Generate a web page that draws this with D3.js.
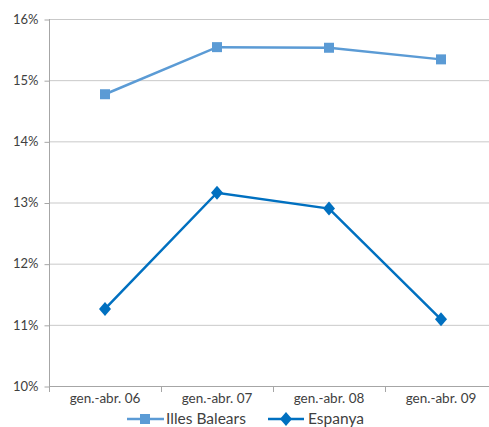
<!DOCTYPE html>
<html><head><meta charset="utf-8">
<script src="https://cdn.jsdelivr.net/npm/d3@7"></script>
<style>body{margin:0;background:#fff;} svg{display:block;}</style>
</head><body>
<svg id="c" width="489" height="427"></svg>
<script>
const categories = ["gen.-abr. 06","gen.-abr. 07","gen.-abr. 08","gen.-abr. 09"];
const illesBalears = [14.77, 15.54, 15.53, 15.34];
const espanya = [11.26, 13.16, 12.90, 11.09];
const yTicks = [10,11,12,13,14,15,16];

const svg = d3.select("#c");
const font = "Lato, 'Open Sans', sans-serif";
const x = d3.scaleBand().domain(categories).range([49, 497]);
const y = d3.scaleLinear().domain([10,16]).range([386, 19]);

// gridlines
svg.append("g").selectAll("line").data(yTicks).join("line")
  .attr("x1", 49).attr("x2", 489).attr("y1", d=>y(d)+0.5).attr("y2", d=>y(d)+0.5)
  .attr("stroke", "#c9c9c9").attr("stroke-width", 1);

// y axis
const ya = svg.append("g").attr("transform","translate(49.5,0)")
  .call(d3.axisLeft(y).tickValues(yTicks).tickFormat(d=>d+"%").tickSize(5).tickPadding(6));
ya.select(".domain").attr("stroke","#a6a6a6").attr("d","M0,"+y(16)+"V"+(y(10)+0.5));
ya.selectAll(".tick line").attr("stroke","#a6a6a6").attr("transform","translate(0,0.5)");
ya.selectAll("text").attr("fill","#404040").style("font-family",font).style("font-size","13px");

// x axis
const xa = svg.append("g").attr("transform","translate(0,"+(y(10)+0.5)+")")
  .call(d3.axisBottom(x).tickSize(0).tickPadding(7));
xa.select(".domain").attr("stroke","#a6a6a6").attr("d","M49,0H489");
xa.selectAll("text").attr("fill","#404040").style("font-family",font).style("font-size","13.5px");
const bounds = [0,1,2,3,4].map(i => 49 + i*x.step());
svg.append("g").selectAll("line").data(bounds).join("line")
  .attr("x1", d=>Math.round(d)+0.5).attr("x2", d=>Math.round(d)+0.5)
  .attr("y1", y(10)).attr("y2", y(10)+6).attr("stroke","#a6a6a6");

const cx = d => x(d) + x.bandwidth()/2;
const line = d3.line().x((d,i)=>cx(categories[i])).y(d=>y(d));

const c1 = "#5b9bd5", c2 = "#0070c0";
const diamond = "M0,-7L6,0L0,7L-6,0Z";
svg.append("path").datum(illesBalears).attr("d", line).attr("fill","none").attr("stroke",c1).attr("stroke-width",2.5);
svg.append("g").selectAll("rect").data(illesBalears).join("rect")
  .attr("x",(d,i)=>cx(categories[i])-5).attr("y",d=>y(d)-5).attr("width",10).attr("height",10).attr("fill",c1);

svg.append("path").datum(espanya).attr("d", line).attr("fill","none").attr("stroke",c2).attr("stroke-width",2.5);
svg.append("g").selectAll("path").data(espanya).join("path")
  .attr("d", diamond)
  .attr("transform",(d,i)=>`translate(${cx(categories[i])},${y(d)})`).attr("fill",c2);

// legend
const ly = 419;
const lg = svg.append("g");
lg.append("line").attr("x1",127).attr("x2",164).attr("y1",ly).attr("y2",ly).attr("stroke",c1).attr("stroke-width",2.5);
lg.append("rect").attr("x",140).attr("y",ly-5).attr("width",10).attr("height",10).attr("fill",c1);
lg.append("text").attr("x",166).attr("y",ly+5).text("Illes Balears").attr("fill","#404040").style("font-family",font).style("font-size","15.5px");
lg.append("line").attr("x1",268).attr("x2",304).attr("y1",ly).attr("y2",ly).attr("stroke",c2).attr("stroke-width",2.5);
lg.append("path").attr("d",diamond).attr("transform",`translate(286,${ly})`).attr("fill",c2);
lg.append("text").attr("x",308).attr("y",ly+5).text("Espanya").attr("fill","#404040").style("font-family",font).style("font-size","15.5px");
</script>
</body></html>
